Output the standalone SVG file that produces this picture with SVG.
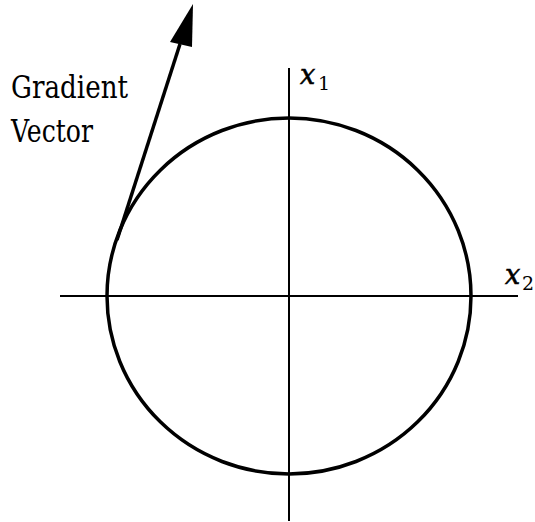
<svg xmlns="http://www.w3.org/2000/svg" width="535" height="522" viewBox="0 0 535 522">
<style>
.ln{stroke:#000;fill:none}
.lbl{font-family:'DejaVu Serif','Liberation Serif',serif;fill:#000}
.var{font-family:'DejaVu Serif','Liberation Serif',serif;font-style:italic;fill:#000;stroke:#000;stroke-width:0.6}
.sub{font-family:'DejaVu Serif','Liberation Serif',serif;fill:#000}
</style>
<rect width="535" height="522" fill="#fff"/>
<g id="axes">
<line class="ln" x1="60" y1="296" x2="518" y2="296" stroke-width="2"/>
<line class="ln" x1="289" y1="68" x2="289" y2="521" stroke-width="2"/>
</g>
<g id="circle">
<ellipse class="ln" cx="289" cy="296" rx="182" ry="178" stroke-width="3.5"/>
</g>
<g id="connectors">
<line class="ln" x1="117" y1="240" x2="180" y2="44" stroke-width="3.5"/>
<polygon points="193,4 170,42 192,47" fill="#000"/>
</g>
<g id="label-gradient">
<text class="lbl" x="11" y="98" font-size="31" textLength="117" lengthAdjust="spacingAndGlyphs">Gradient</text>
<text class="lbl" x="11" y="142" font-size="31" textLength="82" lengthAdjust="spacingAndGlyphs">Vector</text>
</g>
<g id="label-x1">
<text class="var" x="300" y="84" font-size="27">x</text>
<text class="sub" x="318" y="90" font-size="19">1</text>
</g>
<g id="label-x2">
<text class="var" x="505" y="284" font-size="27">x</text>
<text class="sub" x="522" y="290" font-size="19">2</text>
</g>
</svg>
